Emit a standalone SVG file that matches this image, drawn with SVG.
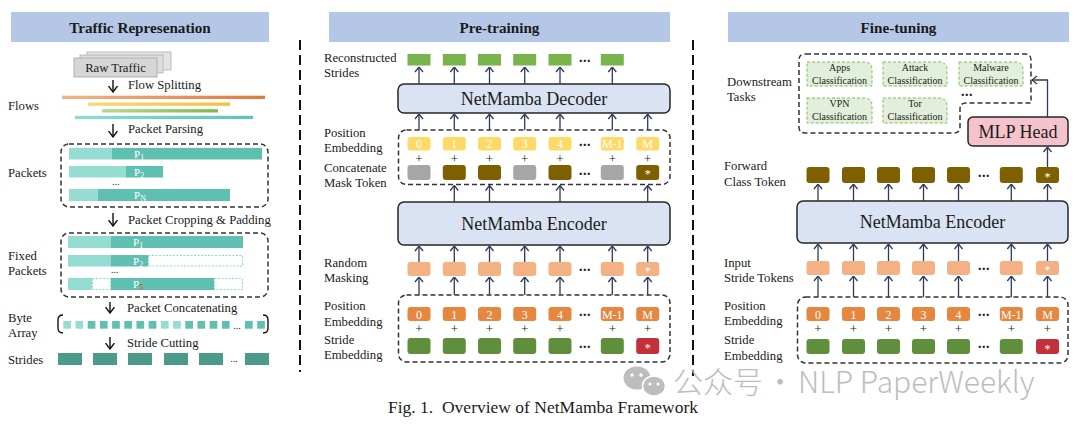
<svg xmlns="http://www.w3.org/2000/svg" width="1080" height="425" viewBox="0 0 1080 425">
<style>
text{font-family:"Liberation Serif","Times New Roman",serif;fill:#1a1a1a}
.lbl{font-size:12.7px}
.hdr{font-size:15.2px;font-weight:bold;text-anchor:middle}
.big{font-size:18px;text-anchor:middle}
.tt{font-size:12px;fill:#fff;text-anchor:middle}
.pl{font-size:13px;text-anchor:middle}
.dots{font-size:14px;font-weight:bold;text-anchor:middle;letter-spacing:0.5px}
.task{font-size:10px;text-anchor:middle;fill:#222}
.pt{font-size:11px;fill:#fff}
.ps{font-size:8px;fill:#fff}
.hbox{fill:#b4c7e7}
.dash{fill:none;stroke:#333;stroke-width:1.5;stroke-dasharray:5 3}
.blk{fill:#dae3f3;stroke:#262626;stroke-width:1.5}
.arr{fill:none;stroke:#2e3a5c;stroke-width:1.3;marker-end:url(#a)}
.karr{fill:none;stroke:#111;stroke-width:1.4;marker-end:url(#k)}
.y{fill:#ffd966}.g{fill:#a6a6a6}.b{fill:#7f6000}.lo{fill:#f4b183}.o{fill:#e6873f}.gr{fill:#5f8f3d}.r{fill:#c3303a}.rg{fill:#78b34c}
.lt{fill:#95ddd3}.dt{fill:#5fc0b2}.st{fill:#4b9a8c}
.pad{fill:#fff;stroke:#8fd8cc;stroke-width:1;stroke-dasharray:2 1.5}
.tb{fill:#e2efda;stroke:#7fbf55;stroke-width:1;stroke-dasharray:3 2}
</style>
<defs>
<marker id="a" viewBox="0 0 6 10" refX="5.5" refY="5" markerWidth="6" markerHeight="10" orient="auto" markerUnits="userSpaceOnUse"><path d="M0.5,1 L5.5,5 L0.5,9" fill="none" stroke="#2e3a5c" stroke-width="1.3"/></marker>
<marker id="k" viewBox="0 0 7 10" refX="6.5" refY="5" markerWidth="7" markerHeight="10" orient="auto" markerUnits="userSpaceOnUse"><path d="M0.5,0.5 L6.5,5 L0.5,9.5" fill="none" stroke="#111" stroke-width="1.4"/></marker>
<linearGradient id="fo"><stop offset="0" stop-color="#efb48a"/><stop offset="1" stop-color="#e07a3a"/></linearGradient>
<linearGradient id="fy"><stop offset="0" stop-color="#f7d77a"/><stop offset="1" stop-color="#f0c040"/></linearGradient>
<linearGradient id="fg"><stop offset="0" stop-color="#b5d88c"/><stop offset="1" stop-color="#7db84f"/></linearGradient>
<linearGradient id="ft"><stop offset="0" stop-color="#8fdcd2"/><stop offset="1" stop-color="#5dc3b6"/></linearGradient>
</defs>
<rect width="1080" height="425" fill="#fff"/>

<!-- dividers -->
<g id="dividers" stroke="#111" stroke-width="2" stroke-dasharray="10 5">
<line x1="300" y1="40" x2="300" y2="372"/>
<line x1="693" y1="40" x2="693" y2="376"/>
</g>

<!-- ============ LEFT PANEL ============ -->
<g id="hdr-traffic"><rect class="hbox" x="11" y="12" width="258" height="30"/><text class="hdr" x="140" y="33">Traffic Represenation</text></g>

<g id="raw-traffic">
<rect x="87" y="52" width="84" height="18" fill="#e3e3e3" stroke="#b0b0b0" stroke-width="0.8"/>
<rect x="80" y="55" width="83" height="18" fill="#dedede" stroke="#b0b0b0" stroke-width="0.8"/>
<rect x="74" y="58" width="83" height="19" fill="#d6d6d6" stroke="#a6a6a6" stroke-width="0.8"/>
<text class="lbl" x="115.5" y="72" text-anchor="middle">Raw Traffic</text>
</g>

<g id="flows">
<text class="lbl" x="8" y="110">Flows</text>
<rect x="62" y="95.7" width="203" height="3.3" fill="url(#fo)"/>
<rect x="88" y="102.5" width="142" height="3.3" fill="url(#fy)"/>
<rect x="102" y="109.2" width="116" height="3.3" fill="url(#fg)"/>
<rect x="75" y="115.8" width="178" height="3.3" fill="url(#ft)"/>
</g>

<g id="packets">
<text class="lbl" x="8" y="177">Packets</text>
<rect class="dash" x="61" y="144" width="207" height="63" rx="8"/>
<rect class="lt" x="69" y="148" width="43" height="11.5"/><rect class="dt" x="112" y="148" width="150" height="11.5"/>
<text class="pt" x="134" y="157.5">P<tspan class="ps" dy="2.5">1</tspan></text>
<rect class="lt" x="69" y="166" width="57" height="11.5"/><rect class="dt" x="126" y="166" width="37" height="11.5"/>
<text class="pt" x="134" y="175.5">P<tspan class="ps" dy="2.5">2</tspan></text>
<text x="112" y="185" font-size="10">...</text>
<rect class="lt" x="69" y="189" width="29" height="12"/><rect class="dt" x="98" y="189" width="132" height="12"/>
<text class="pt" x="134" y="198.5">P<tspan class="ps" dy="2.5">N</tspan></text>
</g>

<g id="fixed-packets">
<text class="lbl" x="8" y="260">Fixed</text>
<text class="lbl" x="8" y="275">Packets</text>
<rect class="dash" x="61" y="233" width="207" height="64" rx="8"/>
<rect class="lt" x="68" y="236" width="43" height="12"/><rect class="dt" x="111" y="236" width="132" height="12"/>
<text class="pt" x="133" y="245.5">P<tspan class="ps" dy="2.5">1</tspan></text>
<rect class="lt" x="68" y="255" width="43" height="11.5"/><rect class="dt" x="111" y="255" width="37" height="11.5"/>
<rect class="pad" x="148.5" y="255.5" width="94" height="10.5"/>
<text class="pt" x="133" y="264.5">P<tspan class="ps" dy="2.5">2</tspan></text>
<text x="111" y="273" font-size="10">...</text>
<rect class="lt" x="68" y="278" width="24" height="12"/>
<rect class="pad" x="92.5" y="278.5" width="18" height="11"/>
<rect class="dt" x="111" y="278" width="103" height="12"/>
<rect class="pad" x="214.5" y="278.5" width="28" height="11"/>
<text class="pt" x="133" y="287.5">P<tspan class="ps" dy="2.5" style="fill:#d9462e">5</tspan></text>
</g>

<g id="byte-array">
<text class="lbl" x="8" y="322">Byte</text>
<text class="lbl" x="8" y="337">Array</text>
<path d="M63,315 Q58,315 58,320 L58,328 Q58,333 63,333" fill="none" stroke="#111" stroke-width="1.4"/>
<path d="M263,315 Q268,315 268,320 L268,328 Q268,333 263,333" fill="none" stroke="#111" stroke-width="1.4"/>
<rect class="lt" x="63.3" y="321" width="7.7" height="7.7"/><rect class="lt" x="75.5" y="321" width="7.7" height="7.7"/>
<rect class="dt" x="87.7" y="321" width="7.7" height="7.7"/><rect class="dt" x="99.9" y="321" width="7.7" height="7.7"/>
<rect class="dt" x="112.1" y="321" width="7.7" height="7.7"/><rect class="dt" x="124.3" y="321" width="7.7" height="7.7"/>
<rect class="dt" x="136.5" y="321" width="7.7" height="7.7"/><rect class="dt" x="148.7" y="321" width="7.7" height="7.7"/>
<rect class="lt" x="160.9" y="321" width="7.7" height="7.7"/><rect class="lt" x="173.1" y="321" width="7.7" height="7.7"/>
<rect class="dt" x="185.3" y="321" width="7.7" height="7.7"/><rect class="dt" x="197.5" y="321" width="7.7" height="7.7"/>
<rect class="dt" x="209.7" y="321" width="7.7" height="7.7"/><rect class="dt" x="221.9" y="321" width="7.7" height="7.7"/>
<text x="237" y="329" font-size="10" text-anchor="middle">...</text>
<rect class="dt" x="245" y="321" width="7.7" height="7.7"/><rect class="dt" x="257.2" y="321" width="7.7" height="7.7"/>
</g>

<g id="strides">
<text class="lbl" x="8" y="364">Strides</text>
<rect class="st" x="58" y="353" width="24" height="12"/>
<rect class="st" x="93" y="353" width="24" height="12"/>
<rect class="st" x="128" y="353" width="24" height="12"/>
<rect class="st" x="164" y="353" width="24" height="12"/>
<rect class="st" x="199" y="353" width="24" height="12"/>
<text x="234" y="362" font-size="10" text-anchor="middle">...</text>
<rect class="st" x="245" y="353" width="24" height="12"/>
</g>

<g id="left-steps">
<text class="lbl" x="128" y="89">Flow Splitting</text>
<text class="lbl" x="128" y="133">Packet Parsing</text>
<text class="lbl" x="128" y="224">Packet Cropping &amp; Padding</text>
<text class="lbl" x="127" y="312">Packet Concatenating</text>
<text class="lbl" x="127" y="347">Stride Cutting</text>
</g>

<!-- ============ MIDDLE PANEL ============ -->
<g id="hdr-pretrain"><rect class="hbox" x="329" y="12" width="341" height="30"/><text class="hdr" x="499.5" y="33">Pre-training</text></g>

<g id="reconstructed">
<text class="lbl" x="324" y="62">Reconstructed</text>
<text class="lbl" x="324" y="77">Strides</text>
<rect class="rg" x="407.5" y="54" width="23" height="11.5"/>
<rect class="rg" x="442.8" y="54" width="23" height="11.5"/>
<rect class="rg" x="478" y="54" width="23" height="11.5"/>
<rect class="rg" x="513.2" y="54" width="23" height="11.5"/>
<rect class="rg" x="548.5" y="54" width="23" height="11.5"/>
<text class="dots" x="585" y="62">...</text>
<rect class="rg" x="600.8" y="54" width="23" height="11.5"/>
</g>

<g id="decoder"><rect class="blk" x="398" y="84" width="272" height="29" rx="6"/><text class="big" x="534" y="104.5">NetMamba Decoder</text></g>

<g id="pre-dec-input">
<text class="lbl" x="324" y="137">Position</text>
<text class="lbl" x="324" y="152">Embedding</text>
<text class="lbl" x="324" y="172">Concatenate</text>
<text class="lbl" x="324" y="187">Mask Token</text>
<rect class="dash" x="398.5" y="130" width="271.5" height="54.5" rx="8"/>
<rect class="y" x="407.5" y="137" width="23" height="13.5" rx="3"/><text class="tt" x="419" y="148">0</text>
<rect class="y" x="442.8" y="137" width="23" height="13.5" rx="3"/><text class="tt" x="454.3" y="148">1</text>
<rect class="y" x="478" y="137" width="23" height="13.5" rx="3"/><text class="tt" x="489.5" y="148">2</text>
<rect class="y" x="513.2" y="137" width="23" height="13.5" rx="3"/><text class="tt" x="524.7" y="148">3</text>
<rect class="y" x="548.5" y="137" width="23" height="13.5" rx="3"/><text class="tt" x="560" y="148">4</text>
<text class="dots" x="585" y="146">...</text>
<rect class="y" x="600.8" y="137" width="23" height="13.5" rx="3"/><text class="tt" x="612.3" y="148">M-1</text>
<rect class="y" x="636.2" y="137" width="23" height="13.5" rx="3"/><text class="tt" x="647.7" y="148">M</text>
<text class="pl" x="419" y="163">+</text><text class="pl" x="454.3" y="163">+</text><text class="pl" x="489.5" y="163">+</text><text class="pl" x="524.7" y="163">+</text><text class="pl" x="560" y="163">+</text><text class="pl" x="612.3" y="163">+</text><text class="pl" x="647.7" y="163">+</text>
<rect class="g" x="407.5" y="165" width="23" height="15" rx="3"/>
<rect class="b" x="442.8" y="165" width="23" height="15" rx="3"/>
<rect class="b" x="478" y="165" width="23" height="15" rx="3"/>
<rect class="g" x="513.2" y="165" width="23" height="15" rx="3"/>
<rect class="b" x="548.5" y="165" width="23" height="15" rx="3"/>
<text class="dots" x="585" y="175">...</text>
<rect class="g" x="600.8" y="165" width="23" height="15" rx="3"/>
<rect class="b" x="636.2" y="165" width="23" height="15" rx="3"/><text class="tt" x="647.7" y="178">*</text>
</g>

<g id="pre-encoder"><rect class="blk" x="398" y="202" width="272" height="43" rx="6"/><text class="big" x="534" y="229.5">NetMamba Encoder</text></g>

<g id="random-masking">
<text class="lbl" x="324" y="267">Random</text>
<text class="lbl" x="324" y="282">Masking</text>
<rect class="lo" x="407.5" y="262" width="23" height="14" rx="3"/>
<rect class="lo" x="442.8" y="262" width="23" height="14" rx="3"/>
<rect class="lo" x="478" y="262" width="23" height="14" rx="3"/>
<rect class="lo" x="513.2" y="262" width="23" height="14" rx="3"/>
<rect class="lo" x="548.5" y="262" width="23" height="14" rx="3"/>
<text class="dots" x="585" y="271">...</text>
<rect class="lo" x="600.8" y="262" width="23" height="14" rx="3"/>
<rect class="lo" x="636.2" y="262" width="23" height="14" rx="3"/><text class="tt" x="647.7" y="275">*</text>
</g>

<g id="pre-embedding">
<text class="lbl" x="324" y="310">Position</text>
<text class="lbl" x="324" y="326">Embedding</text>
<text class="lbl" x="324" y="344">Stride</text>
<text class="lbl" x="324" y="359">Embedding</text>
<rect class="dash" x="398.5" y="295" width="271.5" height="67" rx="8"/>
<rect class="o" x="407.5" y="307" width="23" height="14" rx="3"/><text class="tt" x="419" y="318.5">0</text>
<rect class="o" x="442.8" y="307" width="23" height="14" rx="3"/><text class="tt" x="454.3" y="318.5">1</text>
<rect class="o" x="478" y="307" width="23" height="14" rx="3"/><text class="tt" x="489.5" y="318.5">2</text>
<rect class="o" x="513.2" y="307" width="23" height="14" rx="3"/><text class="tt" x="524.7" y="318.5">3</text>
<rect class="o" x="548.5" y="307" width="23" height="14" rx="3"/><text class="tt" x="560" y="318.5">4</text>
<text class="dots" x="585" y="316">...</text>
<rect class="o" x="600.8" y="307" width="23" height="14" rx="3"/><text class="tt" x="612.3" y="318.5">M-1</text>
<rect class="o" x="636.2" y="307" width="23" height="14" rx="3"/><text class="tt" x="647.7" y="318.5">M</text>
<text class="pl" x="419" y="333">+</text><text class="pl" x="454.3" y="333">+</text><text class="pl" x="489.5" y="333">+</text><text class="pl" x="524.7" y="333">+</text><text class="pl" x="560" y="333">+</text><text class="pl" x="612.3" y="333">+</text><text class="pl" x="647.7" y="333">+</text>
<rect class="gr" x="407.5" y="338" width="23" height="16" rx="3"/>
<rect class="gr" x="442.8" y="338" width="23" height="16" rx="3"/>
<rect class="gr" x="478" y="338" width="23" height="16" rx="3"/>
<rect class="gr" x="513.2" y="338" width="23" height="16" rx="3"/>
<rect class="gr" x="548.5" y="338" width="23" height="16" rx="3"/>
<text class="dots" x="585" y="348">...</text>
<rect class="gr" x="600.8" y="338" width="23" height="16" rx="3"/>
<rect class="r" x="636.2" y="338" width="23" height="16" rx="3"/><text class="tt" x="647.7" y="352">*</text>
</g>

<!-- ============ RIGHT PANEL ============ -->
<g id="hdr-finetune"><rect class="hbox" x="728" y="12" width="341" height="30"/><text class="hdr" x="898.5" y="33">Fine-tuning</text></g>

<g id="downstream">
<text class="lbl" x="727" y="86">Downstream</text>
<text class="lbl" x="727" y="101">Tasks</text>
<path class="dash" d="M806,54 H1025 Q1031,54 1031,60 V103 H966 Q960,103 960,109 V127 Q960,133 954,133 H805 Q799,133 799,127 V60 Q799,54 805,54 Z"/>
<path class="tb" d="M807,62 H864 Q872,62 872,70 V86 H807 Z"/>
<text class="task" x="839.5" y="71">Apps</text><text class="task" x="839.5" y="83.5">Classification</text>
<path class="tb" d="M883,62 H939 Q947,62 947,70 V86 H883 Z"/>
<text class="task" x="915" y="71">Attack</text><text class="task" x="915" y="83.5">Classification</text>
<path class="tb" d="M959,62 H1015 Q1023,62 1023,70 V86 H959 Z"/>
<text class="task" x="991" y="71">Malware</text><text class="task" x="991" y="83.5">Classification</text>
<path class="tb" d="M807,98 H864 Q872,98 872,106 V123 H807 Z"/>
<text class="task" x="839.5" y="107">VPN</text><text class="task" x="839.5" y="120">Classification</text>
<path class="tb" d="M883,98 H939 Q947,98 947,106 V123 H883 Z"/>
<text class="task" x="915" y="106.5">Tor</text><text class="task" x="915" y="119.5">Classification</text>
<text class="dots" x="967" y="96">...</text>
</g>

<g id="mlp-head"><rect x="968" y="117" width="100" height="29" rx="5" fill="#f4c3cb" stroke="#262626" stroke-width="1.5"/><text class="big" x="1018" y="138">MLP Head</text></g>

<g id="class-token">
<text class="lbl" x="724" y="170">Forward</text>
<text class="lbl" x="724" y="186">Class Token</text>
<rect class="b" x="806.5" y="167" width="23" height="16" rx="3"/>
<rect class="b" x="842" y="167" width="23" height="16" rx="3"/>
<rect class="b" x="877" y="167" width="23" height="16" rx="3"/>
<rect class="b" x="912" y="167" width="23" height="16" rx="3"/>
<rect class="b" x="947" y="167" width="23" height="16" rx="3"/>
<text class="dots" x="984" y="177">...</text>
<rect class="b" x="999.8" y="167" width="23" height="16" rx="3"/>
<rect class="b" x="1036" y="167" width="23" height="16" rx="3"/><text class="tt" x="1047.5" y="181">*</text>
</g>

<g id="ft-encoder"><rect class="blk" x="797" y="201" width="271" height="42" rx="6"/><text class="big" x="932.5" y="228">NetMamba Encoder</text></g>

<g id="input-tokens">
<text class="lbl" x="724" y="267">Input</text>
<text class="lbl" x="724" y="282">Stride Tokens</text>
<rect class="lo" x="806.5" y="261" width="23" height="14" rx="3"/>
<rect class="lo" x="842" y="261" width="23" height="14" rx="3"/>
<rect class="lo" x="877" y="261" width="23" height="14" rx="3"/>
<rect class="lo" x="912" y="261" width="23" height="14" rx="3"/>
<rect class="lo" x="947" y="261" width="23" height="14" rx="3"/>
<text class="dots" x="984" y="270">...</text>
<rect class="lo" x="999.8" y="261" width="23" height="14" rx="3"/>
<rect class="lo" x="1036" y="261" width="23" height="14" rx="3"/><text class="tt" x="1047.5" y="274">*</text>
</g>

<g id="ft-embedding">
<text class="lbl" x="724" y="310">Position</text>
<text class="lbl" x="724" y="325">Embedding</text>
<text class="lbl" x="724" y="344">Stride</text>
<text class="lbl" x="724" y="360">Embedding</text>
<rect class="dash" x="797.5" y="297" width="270.5" height="66" rx="8"/>
<rect class="o" x="806.5" y="307" width="23" height="14" rx="3"/><text class="tt" x="818" y="318.5">0</text>
<rect class="o" x="842" y="307" width="23" height="14" rx="3"/><text class="tt" x="853.5" y="318.5">1</text>
<rect class="o" x="877" y="307" width="23" height="14" rx="3"/><text class="tt" x="888.5" y="318.5">2</text>
<rect class="o" x="912" y="307" width="23" height="14" rx="3"/><text class="tt" x="923.5" y="318.5">3</text>
<rect class="o" x="947" y="307" width="23" height="14" rx="3"/><text class="tt" x="958.5" y="318.5">4</text>
<text class="dots" x="984" y="316">...</text>
<rect class="o" x="999.8" y="307" width="23" height="14" rx="3"/><text class="tt" x="1011.3" y="318.5">M-1</text>
<rect class="o" x="1036" y="307" width="23" height="14" rx="3"/><text class="tt" x="1047.5" y="318.5">M</text>
<text class="pl" x="818" y="333">+</text><text class="pl" x="853.5" y="333">+</text><text class="pl" x="888.5" y="333">+</text><text class="pl" x="923.5" y="333">+</text><text class="pl" x="958.5" y="333">+</text><text class="pl" x="1011.3" y="333">+</text><text class="pl" x="1047.5" y="333">+</text>
<rect class="gr" x="806.5" y="339" width="23" height="15" rx="3"/>
<rect class="gr" x="842" y="339" width="23" height="15" rx="3"/>
<rect class="gr" x="877" y="339" width="23" height="15" rx="3"/>
<rect class="gr" x="912" y="339" width="23" height="15" rx="3"/>
<rect class="gr" x="947" y="339" width="23" height="15" rx="3"/>
<text class="dots" x="984" y="348">...</text>
<rect class="gr" x="999.8" y="339" width="23" height="15" rx="3"/>
<rect class="r" x="1036" y="339" width="23" height="15" rx="3"/><text class="tt" x="1047.5" y="352.5">*</text>
</g>

<!-- ============ CONNECTORS ============ -->
<g id="connectors">
<line class="karr" x1="113" y1="80" x2="113" y2="92"/>
<line class="karr" x1="113" y1="124" x2="113" y2="137"/>
<line class="karr" x1="113" y1="213" x2="113" y2="226"/>
<line class="karr" x1="110" y1="302" x2="110" y2="313"/>
<line class="karr" x1="110" y1="337" x2="110" y2="349"/>

<line class="arr" x1="419" y1="84" x2="419" y2="67"/>
<line class="arr" x1="454.3" y1="84" x2="454.3" y2="67"/>
<line class="arr" x1="489.5" y1="84" x2="489.5" y2="67"/>
<line class="arr" x1="524.7" y1="84" x2="524.7" y2="67"/>
<line class="arr" x1="560" y1="84" x2="560" y2="67"/>
<line class="arr" x1="612.3" y1="84" x2="612.3" y2="67"/>

<line class="arr" x1="419" y1="130" x2="419" y2="114"/>
<line class="arr" x1="454.3" y1="130" x2="454.3" y2="114"/>
<line class="arr" x1="489.5" y1="130" x2="489.5" y2="114"/>
<line class="arr" x1="524.7" y1="130" x2="524.7" y2="114"/>
<line class="arr" x1="560" y1="130" x2="560" y2="114"/>
<line class="arr" x1="612.3" y1="130" x2="612.3" y2="114"/>
<line class="arr" x1="647.7" y1="130" x2="647.7" y2="114"/>

<line class="arr" x1="454.3" y1="202" x2="454.3" y2="185.5"/>
<line class="arr" x1="489.5" y1="202" x2="489.5" y2="185.5"/>
<line class="arr" x1="560" y1="202" x2="560" y2="185.5"/>
<line class="arr" x1="647.7" y1="202" x2="647.7" y2="185.5"/>

<line class="arr" x1="419" y1="262" x2="419" y2="246"/>
<line class="arr" x1="454.3" y1="262" x2="454.3" y2="246"/>
<line class="arr" x1="489.5" y1="262" x2="489.5" y2="246"/>
<line class="arr" x1="524.7" y1="262" x2="524.7" y2="246"/>
<line class="arr" x1="560" y1="262" x2="560" y2="246"/>
<line class="arr" x1="612.3" y1="262" x2="612.3" y2="246"/>
<line class="arr" x1="647.7" y1="262" x2="647.7" y2="246"/>

<line class="arr" x1="419" y1="295" x2="419" y2="277"/>
<line class="arr" x1="454.3" y1="295" x2="454.3" y2="277"/>
<line class="arr" x1="489.5" y1="295" x2="489.5" y2="277"/>
<line class="arr" x1="524.7" y1="295" x2="524.7" y2="277"/>
<line class="arr" x1="560" y1="295" x2="560" y2="277"/>
<line class="arr" x1="612.3" y1="295" x2="612.3" y2="277"/>
<line class="arr" x1="647.7" y1="295" x2="647.7" y2="277"/>

<path class="arr" d="M1047.5,117 V80 H1032"/>
<line class="arr" x1="1047.5" y1="167" x2="1047.5" y2="147"/>

<line class="arr" x1="818" y1="201" x2="818" y2="184"/>
<line class="arr" x1="853.5" y1="201" x2="853.5" y2="184"/>
<line class="arr" x1="888.5" y1="201" x2="888.5" y2="184"/>
<line class="arr" x1="923.5" y1="201" x2="923.5" y2="184"/>
<line class="arr" x1="958.5" y1="201" x2="958.5" y2="184"/>
<line class="arr" x1="1011.3" y1="201" x2="1011.3" y2="184"/>
<line class="arr" x1="1047.5" y1="201" x2="1047.5" y2="184"/>

<line class="arr" x1="818" y1="261" x2="818" y2="244"/>
<line class="arr" x1="853.5" y1="261" x2="853.5" y2="244"/>
<line class="arr" x1="888.5" y1="261" x2="888.5" y2="244"/>
<line class="arr" x1="923.5" y1="261" x2="923.5" y2="244"/>
<line class="arr" x1="958.5" y1="261" x2="958.5" y2="244"/>
<line class="arr" x1="1011.3" y1="261" x2="1011.3" y2="244"/>
<line class="arr" x1="1047.5" y1="261" x2="1047.5" y2="244"/>

<line class="arr" x1="818" y1="297" x2="818" y2="276"/>
<line class="arr" x1="853.5" y1="297" x2="853.5" y2="276"/>
<line class="arr" x1="888.5" y1="297" x2="888.5" y2="276"/>
<line class="arr" x1="923.5" y1="297" x2="923.5" y2="276"/>
<line class="arr" x1="958.5" y1="297" x2="958.5" y2="276"/>
<line class="arr" x1="1011.3" y1="297" x2="1011.3" y2="276"/>
<line class="arr" x1="1047.5" y1="297" x2="1047.5" y2="276"/>
</g>

<!-- watermark -->
<g id="watermark">
<ellipse cx="637" cy="378" rx="13.5" ry="11.5" fill="#bdbdbd"/>
<ellipse cx="654" cy="386" rx="11.5" ry="10" fill="#bdbdbd" stroke="#fff" stroke-width="1.5"/>
<circle cx="632" cy="375" r="1.8" fill="#fff"/><circle cx="641" cy="375" r="1.8" fill="#fff"/>
<circle cx="650" cy="384" r="1.5" fill="#fff"/><circle cx="658" cy="384" r="1.5" fill="#fff"/>
<text y="393" style="font-family:'Noto Sans CJK SC','Noto Sans',sans-serif;font-size:30px;font-weight:300;fill:#bdbdbd"><tspan x="673">公众号</tspan><tspan x="780" text-anchor="middle">·</tspan><tspan x="798">NLP PaperWeekly</tspan></text>
</g>

<text id="caption" x="388" y="413" style="font-size:17.5px;white-space:pre">Fig. 1.  Overview of NetMamba Framework</text>
</svg>
